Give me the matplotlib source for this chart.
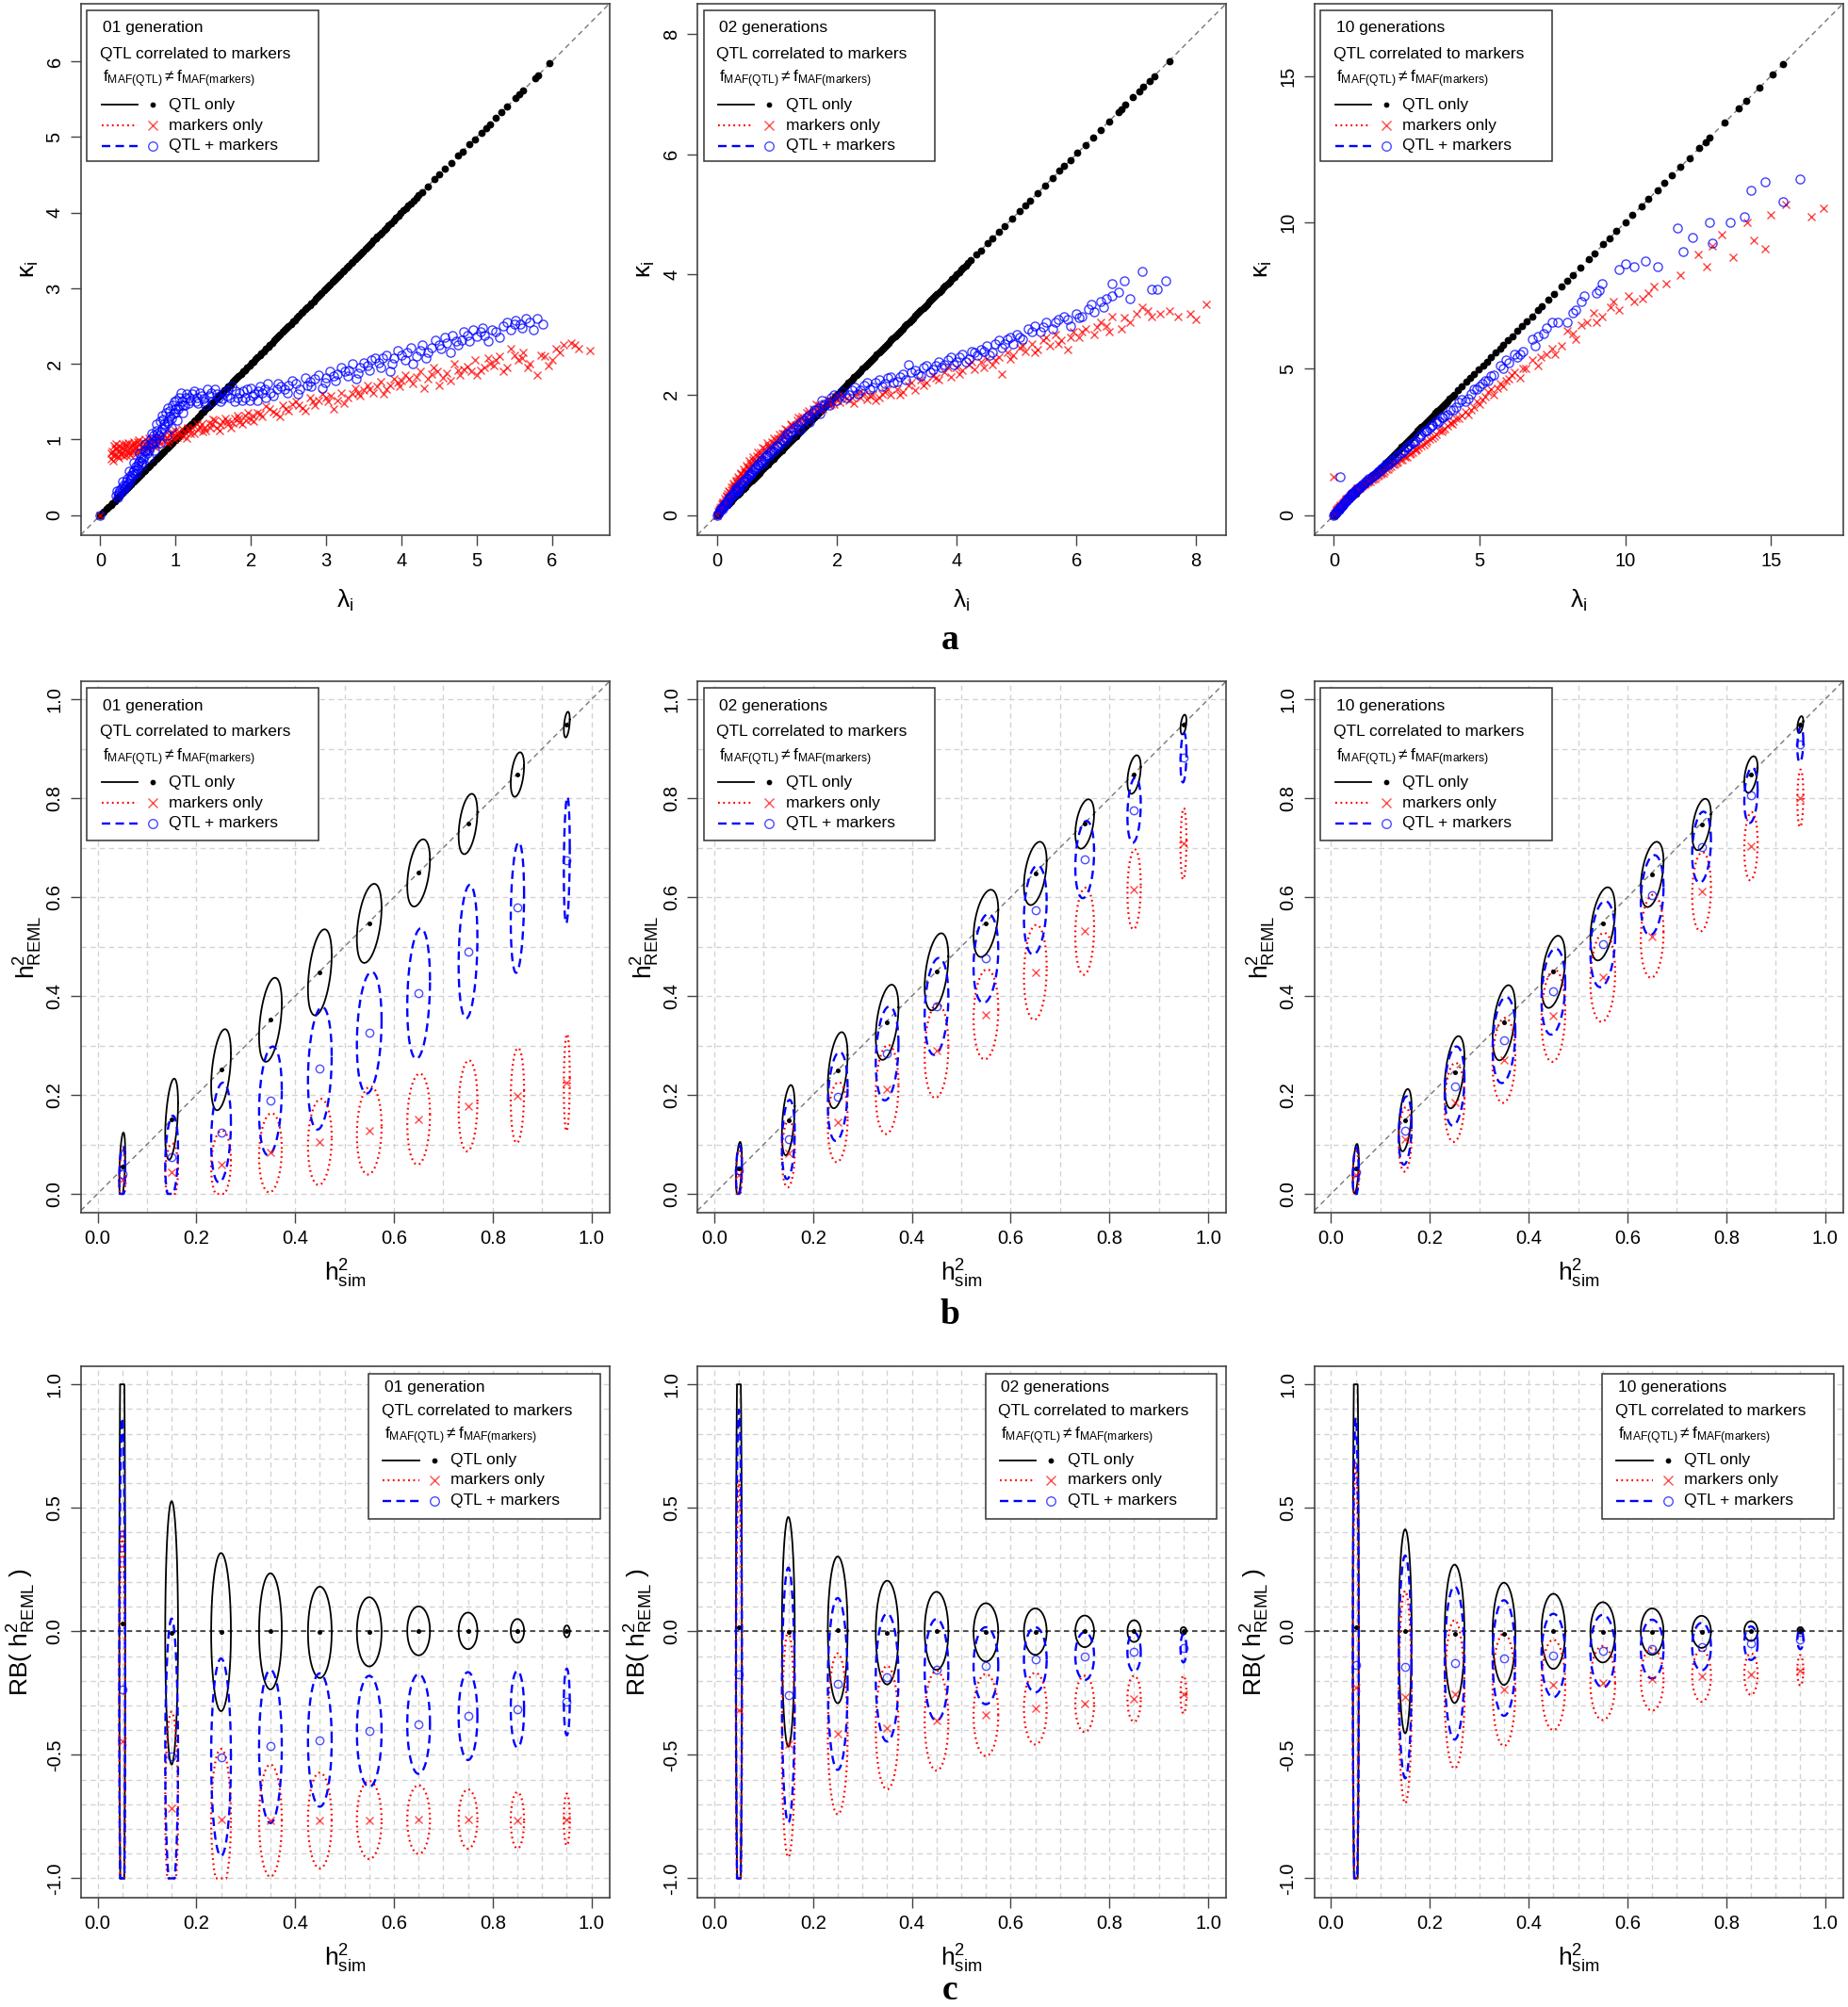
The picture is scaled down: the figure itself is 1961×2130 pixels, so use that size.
import numpy as np
import matplotlib
matplotlib.use("Agg")
import matplotlib.pyplot as plt
from matplotlib.patches import Rectangle
from matplotlib.ticker import MultipleLocator, FormatStrFormatter

plt.rcParams['font.family'] = ['Liberation Sans', 'DejaVu Sans']
plt.rcParams['mathtext.fontset'] = 'custom'
plt.rcParams['mathtext.rm'] = 'Liberation Sans'
plt.rcParams['mathtext.it'] = 'Liberation Sans:italic'
plt.rcParams['mathtext.bf'] = 'Liberation Sans:bold'
plt.rcParams['lines.scale_dashes'] = False
plt.rcParams['axes.unicode_minus'] = False

gen_titles = ['01 generation', '02 generations', '10 generations']

# ---------------- row a : kappa_i vs lambda_i ----------------
# QTL only points lie on kappa = lambda
a1_qtl = [0.00, 0.05, 0.11, 0.16, 0.22, 0.27, 0.33, 0.38, 0.44, 0.49, 0.55, 0.60, 0.66, 0.71,
          0.77, 0.82, 0.88, 0.93, 0.99, 1.04, 1.10, 1.15, 1.21, 1.26, 1.32, 1.37, 1.43, 1.48,
          1.54, 1.59, 1.65, 1.70, 1.76, 1.81, 1.87, 1.92, 1.98, 2.03, 2.09, 2.14, 2.20, 2.25,
          2.31, 2.36, 2.42, 2.47, 2.53, 2.58, 2.64, 2.69, 2.75, 2.80, 2.86, 2.91, 2.97, 3.02,
          3.08, 3.13, 3.19, 3.24, 3.30, 3.35, 3.41, 3.46, 3.52, 3.57, 3.63, 3.68, 3.74, 3.80,
          3.86, 3.93, 3.99, 4.06, 4.12, 4.20, 4.27, 4.35, 4.44, 4.50, 4.58, 4.66, 4.75, 4.81,
          4.90, 4.97, 5.06, 5.12, 5.17, 5.25, 5.33, 5.40, 5.52, 5.57, 5.62, 5.78, 5.82, 5.97,
          0.03, 0.08, 0.14, 0.19, 0.25, 0.30, 0.36, 0.41, 0.47, 0.52, 0.58, 0.63, 0.69, 0.74,
          0.80, 0.85, 0.91, 0.96, 1.02, 1.07, 1.13, 1.18, 1.24, 1.29, 1.35, 1.40, 1.46, 1.51,
          1.57, 1.62, 1.68, 1.73, 1.79, 1.84, 1.90, 1.95, 2.01, 2.06, 2.12, 2.17, 2.23, 2.28,
          2.34, 2.39, 2.45, 2.50, 2.56, 2.61, 2.67, 2.72, 2.78, 2.83, 2.89, 2.94, 3.00, 3.05,
          3.11, 3.16, 3.22, 3.27, 3.33, 3.38, 3.44, 3.49, 3.55, 3.60, 3.66, 3.71, 3.77, 3.83,
          3.90, 3.96, 4.03, 4.09, 4.16, 4.23]
a2_qtl = [0.00, 0.07, 0.13, 0.20, 0.27, 0.34, 0.40, 0.47, 0.54, 0.61, 0.67, 0.74, 0.81, 0.88,
          0.94, 1.01, 1.08, 1.15, 1.21, 1.28, 1.35, 1.42, 1.48, 1.55, 1.62, 1.69, 1.75, 1.82,
          1.89, 1.96, 2.02, 2.09, 2.16, 2.23, 2.29, 2.36, 2.43, 2.50, 2.56, 2.63, 2.70, 2.77,
          2.83, 2.90, 2.97, 3.04, 3.10, 3.17, 3.24, 3.31, 3.37, 3.44, 3.51, 3.58, 3.64, 3.71,
          3.78, 3.85, 3.92, 4.00, 4.08, 4.15, 4.24, 4.33, 4.40, 4.52, 4.60, 4.71, 4.80, 4.93,
          5.05, 5.15, 5.22, 5.35, 5.48, 5.60, 5.72, 5.80, 5.90, 6.02, 6.15, 6.28, 6.40, 6.55,
          6.70, 6.75, 6.82, 6.95, 7.05, 7.12, 7.22, 7.30, 7.55,
          0.035, 0.10, 0.165, 0.235, 0.305, 0.37, 0.435, 0.505, 0.575, 0.64, 0.705, 0.775,
          0.845, 0.91, 0.975, 1.045, 1.115, 1.18, 1.245, 1.315, 1.385, 1.45, 1.515, 1.585,
          1.655, 1.72, 1.785, 1.855, 1.925, 1.99, 2.055, 2.125, 2.195, 2.26, 2.325, 2.395,
          2.465, 2.53, 2.595, 2.665, 2.735, 2.80, 2.865, 2.935, 3.005, 3.07, 3.135, 3.205,
          3.275, 3.34, 3.405, 3.475, 3.545, 3.61, 3.675, 3.745, 3.815, 3.885, 3.96, 4.04,
          4.115, 4.195]
a3_qtl = [0.00, 0.14, 0.27, 0.41, 0.55, 0.68, 0.82, 0.96, 1.10, 1.23, 1.37, 1.51, 1.64, 1.78,
          1.92, 2.05, 2.19, 2.33, 2.47, 2.60, 2.74, 2.88, 3.01, 3.15, 3.29, 3.42, 3.56, 3.70,
          3.84, 3.97, 4.12, 4.26, 4.40, 4.55, 4.68, 4.82, 4.97, 5.12, 5.25, 5.40, 5.55, 5.70,
          5.82, 5.98, 6.12, 6.30, 6.45, 6.62, 6.80, 7.00, 7.15, 7.35, 7.55, 7.80, 8.00, 8.20,
          8.45, 8.75, 8.95, 9.25, 9.45, 9.70, 10.00, 10.25, 10.55, 10.80, 11.10, 11.35, 11.60,
          11.90, 12.20, 12.55, 12.75, 12.90, 13.40, 13.90, 14.15, 14.60, 15.05, 15.40,
          0.07, 0.20, 0.34, 0.48, 0.61, 0.75, 0.89, 1.03, 1.16, 1.30, 1.44, 1.57, 1.71, 1.85,
          1.98, 2.12, 2.26, 2.40, 2.53, 2.67, 2.81, 2.94, 3.08, 3.22, 3.35, 3.49, 3.63, 3.77,
          3.90, 4.05]

a1_mrk = [(0.00, 0.00), (0.15, 0.75), (0.16, 0.85), (0.18, 0.92), (0.20, 0.80), (0.22, 0.88),
          (0.25, 0.76), (0.28, 0.90), (0.30, 0.83), (0.33, 0.95), (0.36, 0.86), (0.40, 0.80),
          (0.42, 0.93), (0.46, 0.88), (0.50, 0.97), (0.53, 0.85), (0.57, 0.92), (0.60, 1.00),
          (0.65, 0.90), (0.70, 0.97), (0.75, 0.93), (0.80, 1.03), (0.86, 0.98), (0.92, 1.06),
          (0.98, 1.00), (1.05, 1.10), (1.10, 1.04), (1.18, 1.12), (1.25, 1.08), (1.32, 1.17),
          (1.40, 1.12), (1.48, 1.20), (1.55, 1.15), (1.62, 1.24), (1.70, 1.20), (1.78, 1.28),
          (1.85, 1.23), (1.92, 1.32), (2.00, 1.27), (2.08, 1.36), (2.15, 1.30), (2.25, 1.40),
          (2.33, 1.34), (2.42, 1.45), (2.50, 1.38), (2.60, 1.50), (2.68, 1.42), (2.78, 1.55),
          (2.85, 1.46), (2.95, 1.60), (3.02, 1.50), (3.10, 1.40), (3.20, 1.62), (3.28, 1.55),
          (3.38, 1.68), (3.45, 1.58), (3.55, 1.72), (3.62, 1.62), (3.72, 1.76), (3.80, 1.66),
          (3.90, 1.80), (3.98, 1.70), (4.05, 1.85), (4.15, 1.74), (4.25, 1.90), (4.35, 1.80),
          (4.42, 1.95), (4.50, 1.72), (4.60, 1.88), (4.70, 2.00), (4.78, 1.85), (4.88, 1.97),
          (4.98, 2.05), (5.05, 1.92), (5.15, 2.08), (5.22, 1.98), (5.30, 2.10), (5.40, 1.95),
          (5.45, 2.20), (5.55, 2.05), (5.62, 2.15), (5.70, 2.00), (5.80, 1.85), (5.85, 2.12),
          (5.95, 1.98), (6.05, 2.20), (6.15, 2.25), (6.25, 2.28), (6.35, 2.20), (6.50, 2.18),
          (0.17, 0.80), (0.21, 0.95), (0.26, 0.84), (0.31, 0.78), (0.35, 0.92), (0.39, 0.85),
          (0.44, 0.97), (0.48, 0.82), (0.52, 0.93), (0.58, 0.86), (0.62, 0.95), (0.68, 1.02),
          (0.72, 0.91), (0.78, 0.98), (0.84, 1.05), (0.90, 0.96), (0.95, 1.08), (1.02, 1.03),
          (1.08, 1.14), (1.14, 1.02), (1.22, 1.15), (1.28, 1.20), (1.36, 1.10), (1.44, 1.22),
          (1.52, 1.25), (1.58, 1.12), (1.66, 1.28), (1.74, 1.16), (1.82, 1.32), (1.88, 1.20),
          (1.96, 1.35), (2.04, 1.24), (2.20, 1.44), (2.38, 1.30), (2.55, 1.47), (2.72, 1.38),
          (2.90, 1.52), (3.06, 1.58), (3.24, 1.48), (3.42, 1.62), (3.58, 1.66), (3.76, 1.60),
          (3.95, 1.75), (4.10, 1.80), (4.30, 1.68), (4.48, 1.90), (4.65, 1.78), (4.82, 1.93),
          (5.00, 1.85), (5.18, 2.00), (5.35, 1.90), (5.50, 2.12), (5.68, 1.95), (5.90, 2.10),
          (6.10, 2.15)]
a1_mrk_dense = [(0.15, 0.82), (0.17, 0.72), (0.19, 0.88), (0.23, 0.78), (0.24, 0.92),
                (0.27, 0.81), (0.29, 0.95), (0.32, 0.87), (0.34, 0.79), (0.37, 0.96),
                (0.38, 0.82), (0.41, 0.89), (0.43, 0.84), (0.45, 0.95), (0.47, 0.91),
                (0.49, 0.86), (0.51, 0.99), (0.55, 0.89), (0.56, 0.97), (0.59, 0.94),
                (0.63, 0.88), (0.64, 1.02), (0.67, 0.95), (0.69, 0.92), (0.73, 1.00),
                (0.76, 1.04), (0.79, 0.95), (0.82, 1.00), (0.88, 1.03), (0.91, 0.99),
                (0.94, 1.10), (0.97, 1.05), (1.00, 1.12), (1.04, 1.06), (1.12, 1.09),
                (1.16, 1.15), (1.20, 1.08), (1.30, 1.13), (1.34, 1.20), (1.38, 1.16),
                (1.46, 1.15), (1.50, 1.27), (1.60, 1.19), (1.68, 1.24), (1.76, 1.22),
                (1.84, 1.28), (1.94, 1.25), (2.02, 1.32), (2.12, 1.34), (2.30, 1.37),
                (2.46, 1.41), (2.64, 1.45), (2.82, 1.50), (3.00, 1.55), (3.15, 1.52),
                (3.35, 1.60), (3.50, 1.65), (3.68, 1.70), (3.85, 1.72), (4.00, 1.78),
                (4.20, 1.83), (4.40, 1.86), (4.55, 1.82), (4.75, 1.92), (4.92, 1.90),
                (5.10, 1.95), (5.25, 2.05), (5.60, 2.08), (6.00, 2.05), (6.30, 2.25)]
a1_both = [(0.00, 0.00), (0.22, 0.32), (0.30, 0.45), (0.38, 0.58), (0.45, 0.70), (0.52, 0.82),
           (0.60, 0.95), (0.68, 1.08), (0.75, 1.20), (0.82, 1.32), (0.90, 1.42), (0.98, 1.50),
           (1.05, 1.56), (0.25, 0.27), (0.32, 0.36), (0.40, 0.46), (0.48, 0.56), (0.56, 0.66),
           (0.64, 0.76), (0.72, 0.86), (0.80, 0.96), (0.88, 1.06), (0.95, 1.15), (1.02, 1.25),
           (1.10, 1.35), (0.28, 0.36), (0.36, 0.48), (0.44, 0.60), (0.52, 0.72), (0.60, 0.84),
           (0.68, 0.96), (0.76, 1.08), (0.84, 1.20), (0.92, 1.30), (1.00, 1.40), (1.12, 1.45),
           (1.15, 1.60), (1.20, 1.52), (1.25, 1.64), (1.30, 1.48), (1.35, 1.58), (1.42, 1.66),
           (1.48, 1.50), (1.55, 1.60), (1.62, 1.54), (1.70, 1.65), (1.78, 1.50), (1.85, 1.62),
           (1.92, 1.56), (2.00, 1.68), (2.08, 1.52), (2.15, 1.62), (2.22, 1.74), (2.30, 1.58),
           (2.40, 1.70), (2.48, 1.62), (2.55, 1.78), (2.65, 1.66), (2.72, 1.82), (2.80, 1.70),
           (2.90, 1.85), (2.98, 1.75), (3.05, 1.90), (3.12, 1.78), (3.20, 1.95), (3.28, 1.84),
           (3.35, 2.00), (3.42, 1.88), (3.50, 2.02), (3.58, 1.92), (3.65, 2.08), (3.72, 1.95),
           (3.80, 2.12), (3.88, 2.00), (3.95, 2.18), (4.05, 2.05), (4.12, 2.22), (4.20, 2.10),
           (4.28, 2.25), (4.35, 2.15), (4.45, 2.32), (4.52, 2.20), (4.60, 2.28), (4.68, 2.38),
           (4.75, 2.25), (4.82, 2.42), (4.90, 2.30), (5.00, 2.36), (5.08, 2.48), (5.15, 2.30),
           (5.25, 2.42), (5.35, 2.50), (5.45, 2.45), (5.52, 2.58), (5.60, 2.48), (5.70, 2.55),
           (5.80, 2.60), (5.88, 2.52),
           (0.24, 0.30), (0.34, 0.40), (0.42, 0.53), (0.50, 0.66), (0.58, 0.78), (0.66, 0.90),
           (0.74, 1.02), (0.82, 1.14), (0.90, 1.24), (0.97, 1.34), (1.04, 1.44), (1.08, 1.50),
           (1.18, 1.56), (1.28, 1.55), (1.38, 1.50), (1.45, 1.58), (1.52, 1.66), (1.60, 1.50),
           (1.68, 1.58), (1.75, 1.70), (1.82, 1.56), (1.90, 1.64), (1.98, 1.52), (2.05, 1.60),
           (2.12, 1.70), (2.20, 1.56), (2.35, 1.66), (2.50, 1.72), (2.62, 1.60), (2.78, 1.76),
           (2.95, 1.68), (3.10, 1.84), (3.25, 1.90), (3.40, 1.80), (3.55, 1.98), (3.70, 2.02),
           (3.85, 1.90), (4.00, 2.12), (4.15, 2.00), (4.32, 2.08), (4.50, 2.25), (4.65, 2.15),
           (4.80, 2.32), (4.95, 2.45), (5.10, 2.38), (5.30, 2.35), (5.50, 2.52), (5.65, 2.60),
           (5.75, 2.45)]
a1_both_dense = [(0.21, 0.26), (0.23, 0.24), (0.26, 0.33), (0.29, 0.32), (0.31, 0.40),
                 (0.33, 0.38), (0.35, 0.44), (0.37, 0.42), (0.39, 0.52), (0.41, 0.50),
                 (0.43, 0.57), (0.46, 0.55), (0.47, 0.64), (0.49, 0.62), (0.51, 0.70),
                 (0.54, 0.70), (0.55, 0.77), (0.57, 0.74), (0.59, 0.86), (0.62, 0.82),
                 (0.63, 0.92), (0.65, 0.86), (0.67, 1.00), (0.70, 0.95), (0.71, 1.06),
                 (0.73, 0.98), (0.75, 1.12), (0.78, 1.05), (0.79, 1.24), (0.81, 1.10),
                 (0.83, 1.27), (0.86, 1.18), (0.87, 1.36), (0.89, 1.22), (0.92, 1.38),
                 (0.94, 1.28), (0.96, 1.45), (0.99, 1.36), (1.01, 1.52), (1.03, 1.40),
                 (1.07, 1.62), (1.09, 1.45), (1.13, 1.55), (1.17, 1.48), (1.22, 1.60),
                 (1.27, 1.50), (1.32, 1.62), (1.37, 1.54), (1.40, 1.46), (1.47, 1.62),
                 (1.57, 1.56), (1.65, 1.62), (1.72, 1.55), (1.80, 1.64), (1.88, 1.52),
                 (1.95, 1.66), (2.02, 1.58), (2.10, 1.64), (2.18, 1.66), (2.26, 1.62),
                 (2.36, 1.74), (2.45, 1.66), (2.60, 1.74), (2.75, 1.72), (2.85, 1.80),
                 (3.00, 1.82), (3.15, 1.86), (3.30, 1.92), (3.45, 1.95), (3.60, 2.05),
                 (3.75, 2.08), (3.90, 2.08), (4.08, 2.15), (4.25, 2.18), (4.40, 2.22),
                 (4.58, 2.35), (4.72, 2.30), (4.88, 2.38), (5.05, 2.42), (5.20, 2.45),
                 (5.40, 2.55), (5.58, 2.52)]

a2_mrk = [(0.00, 0.00), (0.02, 0.05), (0.05, 0.12), (0.08, 0.18), (0.10, 0.20), (0.13, 0.28),
          (0.16, 0.30), (0.20, 0.38), (0.24, 0.42), (0.28, 0.50), (0.32, 0.55), (0.36, 0.60),
          (0.40, 0.68), (0.45, 0.72), (0.50, 0.80), (0.55, 0.85), (0.60, 0.92), (0.66, 0.98),
          (0.72, 1.04), (0.78, 1.10), (0.85, 1.16), (0.92, 1.22), (1.00, 1.28), (1.08, 1.35),
          (1.16, 1.42), (1.25, 1.50), (1.34, 1.58), (1.42, 1.64), (1.50, 1.70), (1.60, 1.76),
          (1.70, 1.82), (1.80, 1.86), (1.90, 1.90), (2.00, 1.92), (2.10, 1.98), (2.20, 1.90),
          (2.30, 2.00), (2.40, 1.95), (2.50, 1.92), (2.60, 2.00), (2.70, 1.95), (2.80, 2.05),
          (2.90, 2.00), (3.00, 2.10), (3.10, 2.05), (3.20, 2.15), (3.30, 2.08), (3.40, 2.25),
          (3.50, 2.20), (3.60, 2.32), (3.70, 2.25), (3.80, 2.38), (3.90, 2.30), (4.00, 2.45),
          (4.10, 2.40), (4.20, 2.50), (4.30, 2.42), (4.40, 2.55), (4.50, 2.60), (4.60, 2.50),
          (4.70, 2.62), (4.75, 2.35), (4.85, 2.70), (4.95, 2.65), (5.05, 2.78), (5.15, 2.72),
          (5.25, 2.85), (5.35, 2.75), (5.45, 2.90), (5.55, 2.82), (5.65, 3.00), (5.75, 2.90),
          (5.85, 2.75), (5.95, 3.05), (6.05, 2.95), (6.15, 3.10), (6.30, 3.00), (6.40, 3.20),
          (6.50, 3.15), (6.60, 3.30), (6.75, 3.10), (6.90, 3.20), (7.00, 3.35), (7.10, 3.45),
          (7.25, 3.30), (7.40, 3.35), (7.55, 3.40), (7.70, 3.30), (7.90, 3.35), (8.00, 3.25),
          (8.17, 3.50), (0.10, 0.15), (0.30, 0.45), (0.50, 0.72), (0.70, 0.95), (0.90, 1.15),
          (1.10, 1.30), (1.30, 1.50), (1.50, 1.62), (1.70, 1.75), (1.90, 1.85),
          (0.06, 0.09), (0.12, 0.22), (0.18, 0.35), (0.26, 0.46), (0.34, 0.58), (0.42, 0.66),
          (0.52, 0.76), (0.62, 0.88), (0.74, 1.00), (0.86, 1.12), (0.98, 1.24), (1.12, 1.36),
          (1.26, 1.46), (1.40, 1.60), (1.55, 1.68), (1.72, 1.78), (1.88, 1.82), (2.05, 1.88),
          (2.25, 1.95), (2.45, 2.02), (2.65, 1.90), (2.85, 2.10), (3.05, 2.00), (3.25, 2.20),
          (3.45, 2.15), (3.65, 2.28), (3.85, 2.45), (4.05, 2.35), (4.25, 2.55), (4.45, 2.45),
          (4.65, 2.58), (4.90, 2.60), (5.10, 2.82), (5.30, 2.70), (5.50, 2.95), (5.70, 2.85),
          (5.90, 2.95), (6.10, 3.05), (6.35, 3.12), (6.55, 3.05), (6.80, 3.28), (7.20, 3.40)]
a2_mrk_dense = [(0.03, 0.08), (0.07, 0.14), (0.09, 0.22), (0.11, 0.18), (0.14, 0.25),
                (0.15, 0.33), (0.17, 0.28), (0.19, 0.40), (0.22, 0.36), (0.23, 0.46),
                (0.26, 0.40), (0.27, 0.53), (0.30, 0.48), (0.31, 0.58), (0.33, 0.52),
                (0.35, 0.64), (0.38, 0.58), (0.39, 0.70), (0.42, 0.62), (0.44, 0.76),
                (0.47, 0.70), (0.48, 0.82), (0.53, 0.78), (0.54, 0.90), (0.58, 0.82),
                (0.60, 0.97), (0.64, 0.90), (0.68, 1.05), (0.70, 0.96), (0.76, 1.12),
                (0.80, 1.04), (0.83, 1.20), (0.88, 1.10), (0.94, 1.28), (0.96, 1.18),
                (1.04, 1.34), (1.06, 1.26), (1.14, 1.44), (1.18, 1.34), (1.22, 1.52),
                (1.30, 1.44), (1.36, 1.62), (1.45, 1.56), (1.52, 1.74), (1.62, 1.70),
                (1.66, 1.84), (1.76, 1.76), (1.85, 1.92), (1.95, 1.84), (2.02, 1.98),
                (2.15, 1.94), (2.28, 1.86), (2.38, 2.05), (2.55, 1.98), (2.75, 2.02)]
a2_both = [(0.00, 0.00), (0.02, 0.03), (0.05, 0.08), (0.08, 0.12), (0.12, 0.17), (0.16, 0.22),
           (0.20, 0.28), (0.25, 0.34), (0.30, 0.40), (0.35, 0.46), (0.40, 0.52), (0.46, 0.58),
           (0.52, 0.65), (0.58, 0.72), (0.65, 0.80), (0.72, 0.88), (0.80, 0.96), (0.88, 1.04),
           (0.96, 1.12), (1.05, 1.20), (1.14, 1.30), (1.22, 1.38), (1.30, 1.46), (1.40, 1.54),
           (1.50, 1.62), (1.60, 1.70), (1.70, 1.78), (1.75, 1.90), (1.80, 1.82), (1.90, 1.95),
           (2.00, 1.90), (2.10, 2.05), (2.20, 2.00), (2.30, 2.12), (2.40, 2.08), (2.50, 2.20),
           (2.60, 2.12), (2.70, 2.25), (2.80, 2.18), (2.90, 2.30), (3.00, 2.22), (3.10, 2.35),
           (3.20, 2.50), (3.30, 2.40), (3.40, 2.32), (3.50, 2.48), (3.60, 2.42), (3.70, 2.55),
           (3.80, 2.50), (3.90, 2.62), (4.00, 2.55), (4.10, 2.68), (4.20, 2.60), (4.30, 2.70),
           (4.40, 2.75), (4.50, 2.82), (4.60, 2.70), (4.70, 2.90), (4.80, 2.85), (4.90, 2.95),
           (5.00, 3.00), (5.10, 2.92), (5.20, 3.10), (5.30, 3.15), (5.40, 3.05), (5.50, 3.20),
           (5.60, 3.10), (5.70, 3.25), (5.80, 3.30), (5.90, 3.15), (6.00, 3.35), (6.10, 3.30),
           (6.20, 3.42), (6.30, 3.38), (6.40, 3.55), (6.50, 3.60), (6.60, 3.85), (6.70, 3.70),
           (6.80, 3.90), (6.90, 3.60), (7.10, 4.05), (7.25, 3.75), (7.35, 3.75), (7.50, 3.90),
           (0.15, 0.18), (0.35, 0.42), (0.55, 0.66), (0.75, 0.86), (0.95, 1.06), (1.15, 1.26),
           (1.35, 1.44), (1.55, 1.60),
           (0.10, 0.14), (0.22, 0.30), (0.32, 0.44), (0.44, 0.55), (0.56, 0.70), (0.68, 0.84),
           (0.84, 1.00), (1.00, 1.16), (1.18, 1.34), (1.35, 1.50), (1.52, 1.66), (1.65, 1.75),
           (1.85, 1.88), (2.05, 1.98), (2.25, 2.08), (2.45, 2.15), (2.65, 2.20), (2.85, 2.28),
           (3.05, 2.30), (3.25, 2.38), (3.45, 2.45), (3.65, 2.48), (3.85, 2.58), (4.05, 2.62),
           (4.25, 2.72), (4.45, 2.72), (4.65, 2.85), (4.85, 2.92), (5.05, 2.95), (5.25, 3.05),
           (5.45, 3.12), (5.65, 3.20), (5.85, 3.25), (6.05, 3.28), (6.25, 3.50), (6.45, 3.45),
           (6.60, 3.65)]
a2_both_dense = [(0.03, 0.04), (0.06, 0.10), (0.09, 0.10), (0.11, 0.16), (0.14, 0.20),
                 (0.18, 0.22), (0.19, 0.27), (0.23, 0.30), (0.26, 0.36), (0.28, 0.35),
                 (0.32, 0.42), (0.34, 0.40), (0.38, 0.50), (0.42, 0.50), (0.44, 0.58),
                 (0.48, 0.60), (0.50, 0.62), (0.54, 0.68), (0.57, 0.68), (0.60, 0.76),
                 (0.63, 0.76), (0.67, 0.84), (0.70, 0.83), (0.74, 0.92), (0.78, 0.90),
                 (0.82, 1.00), (0.86, 0.98), (0.90, 1.08), (0.94, 1.06), (0.99, 1.16),
                 (1.03, 1.14), (1.08, 1.25), (1.12, 1.22), (1.17, 1.35), (1.25, 1.32),
                 (1.28, 1.44), (1.38, 1.42), (1.45, 1.58), (1.55, 1.55), (1.62, 1.75),
                 (1.72, 1.68), (1.78, 1.85), (1.88, 1.82), (1.95, 2.00), (2.15, 1.95),
                 (2.35, 2.02), (2.55, 2.10), (2.75, 2.14), (2.95, 2.20), (3.15, 2.25),
                 (3.35, 2.35), (3.55, 2.38), (3.75, 2.45), (3.95, 2.50), (4.15, 2.55),
                 (4.35, 2.65), (4.55, 2.65), (4.75, 2.78), (4.95, 2.85)]

a3_mrk = [(0.00, 0.00), (0.00, 1.32), (0.02, 0.05), (0.05, 0.10), (0.10, 0.18), (0.15, 0.24),
          (0.20, 0.30), (0.30, 0.40), (0.40, 0.50), (0.50, 0.60), (0.60, 0.70), (0.70, 0.80),
          (0.80, 0.88), (0.90, 0.95), (1.00, 1.02), (1.15, 1.12), (1.30, 1.22), (1.45, 1.32),
          (1.60, 1.42), (1.75, 1.52), (1.90, 1.62), (2.05, 1.72), (2.20, 1.82), (2.35, 1.90),
          (2.50, 2.00), (2.70, 2.15), (2.90, 2.30), (3.10, 2.42), (3.30, 2.60), (3.50, 2.75),
          (3.70, 2.85), (3.90, 3.05), (4.10, 3.20), (4.30, 3.30), (4.50, 3.55), (4.70, 3.60),
          (4.90, 3.90), (5.10, 3.95), (5.30, 4.20), (5.50, 4.10), (5.70, 4.50), (5.90, 4.60),
          (6.10, 4.80), (6.40, 4.70), (6.60, 5.00), (6.80, 5.30), (7.00, 5.10), (7.30, 5.50),
          (7.50, 5.70), (7.80, 5.80), (8.00, 6.30), (8.30, 6.00), (8.50, 6.50), (8.70, 6.60),
          (8.90, 6.90), (9.20, 6.80), (9.50, 7.10), (9.80, 7.00), (10.10, 7.50), (10.60, 7.40),
          (10.80, 7.60), (11.00, 7.80), (11.40, 7.90), (11.90, 8.20), (12.50, 8.90),
          (12.80, 8.50), (13.00, 9.20), (13.30, 9.60), (13.70, 8.80), (14.20, 10.00),
          (14.40, 9.40), (14.80, 9.10), (15.00, 10.25), (15.50, 10.60), (16.40, 10.20),
          (16.80, 10.50), (0.40, 0.55), (0.80, 0.92), (1.20, 1.20), (1.60, 1.48), (2.00, 1.75),
          (2.40, 2.02), (2.80, 2.28), (3.20, 2.55), (3.60, 2.90), (4.00, 3.15),
          (0.25, 0.33), (0.45, 0.55), (0.65, 0.74), (0.85, 0.92), (1.05, 1.05), (1.25, 1.16),
          (1.40, 1.25), (1.55, 1.38), (1.70, 1.45), (1.85, 1.58), (2.10, 1.76), (2.30, 1.88),
          (2.60, 2.08), (2.80, 2.20), (3.00, 2.38), (3.40, 2.62), (3.80, 2.95), (4.20, 3.30),
          (4.60, 3.45), (5.00, 3.80), (5.40, 4.30), (5.80, 4.40), (6.20, 4.90), (7.10, 5.40),
          (7.60, 5.50), (8.20, 6.20), (9.00, 6.60), (9.60, 7.30), (10.30, 7.30)]
a3_mrk_dense = [(0.07, 0.14), (0.12, 0.22), (0.17, 0.28), (0.22, 0.34), (0.27, 0.37),
                (0.33, 0.45), (0.37, 0.48), (0.43, 0.56), (0.48, 0.58), (0.53, 0.65),
                (0.58, 0.67), (0.63, 0.75), (0.68, 0.76), (0.73, 0.84), (0.78, 0.85),
                (0.83, 0.92), (0.88, 0.93), (0.95, 1.00), (1.10, 1.08), (1.20, 1.16),
                (1.35, 1.26), (1.50, 1.35), (1.65, 1.45), (1.80, 1.56), (1.95, 1.66),
                (2.15, 1.80), (2.45, 1.98), (2.65, 2.12), (2.85, 2.26), (3.15, 2.48),
                (3.45, 2.70), (3.75, 2.92), (4.05, 3.12), (4.40, 3.40), (4.80, 3.70),
                (5.20, 4.05), (5.60, 4.35), (6.00, 4.65), (6.50, 5.00)]
a3_both = [(0.00, 0.00), (0.20, 1.30), (0.02, 0.02), (0.05, 0.06), (0.10, 0.12), (0.15, 0.18),
           (0.20, 0.24), (0.30, 0.36), (0.40, 0.47), (0.50, 0.58), (0.60, 0.68), (0.70, 0.78),
           (0.80, 0.88), (0.90, 0.97), (1.00, 1.06), (1.15, 1.18), (1.30, 1.30), (1.45, 1.42),
           (1.60, 1.55), (1.75, 1.66), (1.90, 1.78), (2.05, 1.90), (2.20, 2.05), (2.40, 2.20),
           (2.60, 2.40), (2.80, 2.55), (3.00, 2.75), (3.20, 2.90), (3.40, 3.10), (3.60, 3.20),
           (3.80, 3.40), (4.00, 3.60), (4.20, 3.70), (4.40, 3.95), (4.60, 4.00), (4.80, 4.30),
           (5.00, 4.40), (5.20, 4.60), (5.50, 4.80), (5.70, 5.10), (6.00, 5.20), (6.20, 5.50),
           (6.50, 5.60), (6.80, 6.00), (7.00, 6.10), (7.30, 6.40), (7.50, 6.60), (8.00, 6.60),
           (8.30, 7.00), (8.50, 7.30), (9.00, 7.60), (9.20, 7.90), (9.80, 8.40), (10.00, 8.60),
           (10.30, 8.50), (10.70, 8.70), (11.10, 8.50), (11.80, 9.80), (12.00, 9.00),
           (12.30, 9.50), (12.90, 10.00), (13.00, 9.30), (13.60, 10.00), (14.10, 10.20),
           (14.30, 11.10), (14.80, 11.40), (15.40, 10.70), (16.00, 11.50), (0.60, 0.72),
           (1.20, 1.25), (1.80, 1.75), (2.50, 2.35), (3.10, 2.85), (3.70, 3.35),
           (0.25, 0.30), (0.45, 0.52), (0.65, 0.74), (0.85, 0.93), (1.10, 1.14), (1.35, 1.36),
           (1.55, 1.50), (1.70, 1.62), (1.95, 1.84), (2.30, 2.12), (2.50, 2.30), (2.70, 2.48),
           (2.90, 2.65), (3.30, 3.00), (3.50, 3.20), (3.90, 3.45), (4.30, 3.85), (4.70, 4.15),
           (5.10, 4.50), (5.40, 4.75), (5.90, 5.30), (6.40, 5.50), (6.90, 5.80), (7.70, 6.60),
           (8.60, 7.50), (9.10, 7.70)]
a3_both_dense = [(0.07, 0.08), (0.12, 0.15), (0.17, 0.20), (0.22, 0.27), (0.27, 0.32),
                 (0.33, 0.40), (0.37, 0.44), (0.43, 0.50), (0.48, 0.56), (0.53, 0.62),
                 (0.58, 0.66), (0.63, 0.72), (0.68, 0.76), (0.73, 0.82), (0.78, 0.86),
                 (0.83, 0.90), (0.88, 0.95), (0.95, 1.02), (1.05, 1.10), (1.25, 1.26),
                 (1.40, 1.38), (1.50, 1.47), (1.65, 1.60), (1.85, 1.74), (2.00, 1.88),
                 (2.15, 2.00), (2.35, 2.16), (2.55, 2.35), (2.75, 2.52), (2.95, 2.70),
                 (3.15, 2.88), (3.35, 3.05), (3.55, 3.15), (3.75, 3.35), (4.10, 3.60),
                 (4.50, 3.90), (4.90, 4.30), (5.30, 4.60), (5.80, 5.00), (6.30, 5.40),
                 (7.20, 6.20), (8.20, 6.90)]

a_qtl = [a1_qtl, a2_qtl, a3_qtl]
a_mrk = [a1_mrk + a1_mrk_dense, a2_mrk + a2_mrk_dense, a3_mrk + a3_mrk_dense]
a_both = [a1_both + a1_both_dense, a2_both + a2_both_dense, a3_both + a3_both_dense]
a_lims = [(-0.26, 6.76), (-0.33, 8.5), (-0.67, 17.47)]
a_steps = [1, 2, 5]

# ---------------- rows b and c : ellipses per simulated heritability ----------------
h2_sim = [0.05, 0.15, 0.25, 0.35, 0.45, 0.55, 0.65, 0.75, 0.85, 0.95]
h2_halfwidth = [0.006, 0.013, 0.020, 0.023, 0.024, 0.025, 0.023, 0.019, 0.0135, 0.006]

# b: h2 REML, centre and half height
b1_qtl = [0.056, 0.151, 0.251, 0.352, 0.448, 0.547, 0.649, 0.748, 0.848, 0.949]
b1_qtl_hh = [0.068, 0.082, 0.082, 0.085, 0.087, 0.080, 0.068, 0.061, 0.045, 0.026]
b1_mrk = [0.029, 0.044, 0.060, 0.083, 0.105, 0.128, 0.151, 0.178, 0.199, 0.225]
b1_mrk_hh = [0.058, 0.058, 0.068, 0.080, 0.087, 0.089, 0.092, 0.092, 0.096, 0.098]
b1_both = [0.040, 0.074, 0.124, 0.188, 0.254, 0.326, 0.405, 0.490, 0.579, 0.675]
b1_both_hh = [0.055, 0.084, 0.101, 0.110, 0.124, 0.123, 0.132, 0.135, 0.132, 0.128]

b2_qtl = [0.051, 0.149, 0.250, 0.347, 0.449, 0.547, 0.648, 0.748, 0.848, 0.949]
b2_qtl_hh = [0.054, 0.071, 0.077, 0.076, 0.078, 0.068, 0.064, 0.050, 0.039, 0.020]
b2_mrk = [0.039, 0.081, 0.145, 0.211, 0.289, 0.363, 0.448, 0.531, 0.616, 0.708]
b2_mrk_hh = [0.050, 0.068, 0.081, 0.090, 0.095, 0.091, 0.096, 0.088, 0.081, 0.072]
b2_both = [0.047, 0.110, 0.197, 0.284, 0.379, 0.476, 0.574, 0.676, 0.776, 0.882]
b2_both_hh = [0.050, 0.080, 0.090, 0.095, 0.098, 0.090, 0.090, 0.078, 0.066, 0.050]

b3_qtl = [0.051, 0.149, 0.246, 0.346, 0.449, 0.546, 0.646, 0.747, 0.848, 0.949]
b3_qtl_hh = [0.050, 0.063, 0.073, 0.076, 0.073, 0.074, 0.066, 0.052, 0.037, 0.017]
b3_mrk = [0.039, 0.110, 0.185, 0.270, 0.360, 0.438, 0.521, 0.611, 0.703, 0.800]
b3_mrk_hh = [0.047, 0.065, 0.080, 0.086, 0.093, 0.090, 0.084, 0.080, 0.069, 0.058]
b3_both = [0.043, 0.128, 0.218, 0.311, 0.409, 0.505, 0.604, 0.701, 0.806, 0.909]
b3_both_hh = [0.051, 0.069, 0.080, 0.087, 0.087, 0.087, 0.081, 0.072, 0.056, 0.036]

# c: relative bias RB(h2 REML), centre and half height
c1_qtl = [0.030, -0.006, -0.003, 0.000, -0.004, -0.002, 0.002, 0.002, 0.002, 0.000]
c1_qtl_hh = [1.40, 0.533, 0.320, 0.235, 0.185, 0.140, 0.099, 0.074, 0.048, 0.024]
c1_mrk = [-0.445, -0.715, -0.761, -0.766, -0.766, -0.764, -0.762, -0.760, -0.765, -0.762]
c1_mrk_hh = [0.85, 0.39, 0.285, 0.227, 0.194, 0.158, 0.139, 0.120, 0.114, 0.105]
c1_both = [-0.235, -0.508, -0.510, -0.466, -0.440, -0.405, -0.375, -0.343, -0.315, -0.286]
c1_both_hh = [1.10, 0.56, 0.40, 0.31, 0.27, 0.225, 0.202, 0.178, 0.155, 0.135]

c2_qtl = [0.017, -0.002, 0.006, -0.005, 0.002, -0.004, -0.001, 0.000, 0.001, 0.002]
c2_qtl_hh = [1.30, 0.465, 0.297, 0.210, 0.158, 0.118, 0.094, 0.064, 0.044, 0.015]
c2_mrk = [-0.320, -0.457, -0.415, -0.390, -0.362, -0.339, -0.313, -0.294, -0.273, -0.256]
c2_mrk_hh = [0.93, 0.457, 0.326, 0.250, 0.202, 0.166, 0.145, 0.114, 0.093, 0.076]
c2_both = [-0.173, -0.258, -0.213, -0.187, -0.156, -0.139, -0.115, -0.100, -0.084, -0.069]
c2_both_hh = [1.07, 0.516, 0.348, 0.259, 0.206, 0.156, 0.132, 0.097, 0.079, 0.057]

c3_qtl = [0.017, 0.000, -0.010, -0.010, 0.000, -0.004, -0.001, -0.002, 0.001, 0.004]
c3_qtl_hh = [1.30, 0.413, 0.280, 0.207, 0.152, 0.122, 0.094, 0.065, 0.040, 0.013]
c3_mrk = [-0.228, -0.266, -0.255, -0.236, -0.217, -0.209, -0.194, -0.180, -0.173, -0.158]
c3_mrk_hh = [0.91, 0.430, 0.300, 0.228, 0.183, 0.150, 0.127, 0.105, 0.084, 0.062]
c3_both = [-0.135, -0.144, -0.128, -0.108, -0.098, -0.080, -0.072, -0.062, -0.048, -0.032]
c3_both_hh = [1.00, 0.451, 0.310, 0.234, 0.169, 0.147, 0.119, 0.096, 0.068, 0.040]

b_data = [[(b1_qtl, b1_qtl_hh), (b1_mrk, b1_mrk_hh), (b1_both, b1_both_hh)],
          [(b2_qtl, b2_qtl_hh), (b2_mrk, b2_mrk_hh), (b2_both, b2_both_hh)],
          [(b3_qtl, b3_qtl_hh), (b3_mrk, b3_mrk_hh), (b3_both, b3_both_hh)]]
c_data = [[(c1_qtl, c1_qtl_hh), (c1_mrk, c1_mrk_hh), (c1_both, c1_both_hh)],
          [(c2_qtl, c2_qtl_hh), (c2_mrk, c2_mrk_hh), (c2_both, c2_both_hh)],
          [(c3_qtl, c3_qtl_hh), (c3_mrk, c3_mrk_hh), (c3_both, c3_both_hh)]]

# styles: QTL only / markers only / QTL + markers
names = ['QTL only', 'markers only', 'QTL + markers']
cols = ['black', '#FF0000', '#0000FF']
lstyles = ['-', (0, (1.3, 2.6)), (0, (6.5, 4.0))]
lwidths = [1.3, 1.6, 1.7]
tilt_b = [0.4, 0.1, 0.2]


def center_marker(ax, x, y, k, transform=None, ms_scale=1.0, z=8):
    kw = {}
    if transform is not None:
        kw = dict(transform=transform, clip_on=False)
    if k == 0:
        ax.plot(x, y, 'o', color='black', ms=3.6 * ms_scale, mew=0, zorder=z, **kw)
    elif k == 1:
        ax.plot(x, y, 'x', color=cols[1], alpha=0.7, ms=6.0 * ms_scale, mew=1.0, zorder=z, **kw)
    else:
        ax.plot(x, y, 'o', mfc='none', mec=cols[2], alpha=0.7, ms=6.0 * ms_scale, mew=1.0,
                zorder=z, **kw)


def ellipse(ax, x, hw, cy, hh, r, lo, hi, k):
    t = np.linspace(0, 2 * np.pi, 240)
    ex = x + hw * np.cos(t)
    ey = cy + hh * (r * np.cos(t) + np.sqrt(1 - r * r) * np.sin(t))
    ey = np.clip(ey, lo, hi)
    ax.plot(ex, ey, color=cols[k], ls=lstyles[k], lw=lwidths[k], zorder=3 + k)


def draw_key(ax, left, top, title, height, steps):
    ax.add_patch(Rectangle((left, top - height), 0.438, height, transform=ax.transAxes,
                           facecolor='white', edgecolor='#333333', lw=1.1, zorder=9))
    y = [top - s for s in steps]
    kw = dict(transform=ax.transAxes, fontsize=12.5, va='center', ha='left', zorder=10)
    ax.text(left + 0.029, y[0], title, **kw)
    ax.text(left + 0.024, y[1], 'QTL correlated to markers', **kw)
    ax.text(left + 0.029, y[2],
            r'$\mathrm{f}_{\mathrm{MAF(QTL)}}\neq\mathrm{f}_{\mathrm{MAF(markers)}}$', **kw)
    for k in range(3):
        ax.plot([left + 0.027, left + 0.095], [y[3 + k], y[3 + k]], transform=ax.transAxes,
                color=cols[k], ls=lstyles[k], lw=lwidths[k], zorder=10, clip_on=False)
        center_marker(ax, [left + 0.124], [y[3 + k]], k, transform=ax.transAxes,
                      ms_scale=1.15, z=11)
        ax.text(left + 0.155, y[3 + k], names[k], **kw)


def style_axes(ax):
    for s in ax.spines.values():
        s.set_color('#444444')
        s.set_linewidth(1.2)
    ax.tick_params(which='major', direction='out', length=8, width=1, color='#444444',
                   labelsize=14.5, pad=5)
    ax.tick_params(which='minor', length=0)
    ax.tick_params(axis='y', labelrotation=90)
    for lab in ax.get_yticklabels():
        lab.set_va('center')


fig = plt.figure(figsize=(19.61, 21.30), dpi=100)
col_left = [0.0437, 0.3774, 0.7112]
row_bottom = [0.7335, 0.3958, 0.0545]
ax_w, ax_h = 0.286, 0.2646

key_steps_ab = [0.034, 0.082, 0.130, 0.178, 0.217, 0.255]
key_steps_c = [0.025, 0.070, 0.116, 0.162, 0.200, 0.239]

for j in range(3):
    # ---- row a ----
    ax = fig.add_axes([col_left[j], row_bottom[0], ax_w, ax_h])
    lam = a_qtl[j]
    ax.plot(lam, lam, 'o', color='black', ms=5.6, mew=0, zorder=3)
    mrk = np.array(a_mrk[j])
    ax.plot(mrk[:, 0], mrk[:, 1], 'x', color=cols[1], alpha=0.75, ms=6.3, mew=1.0, zorder=4)
    both = np.array(a_both[j])
    ax.plot(both[:, 0], both[:, 1], 'o', mfc='none', mec=cols[2], alpha=0.75, ms=6.6,
            mew=1.0, zorder=5)
    ax.axline((0, 0), slope=1, color='#777777', ls=(0, (4, 3)), lw=1.0, zorder=2)
    lo, hi = a_lims[j]
    ax.set_xlim(lo, hi)
    ax.set_ylim(lo, hi)
    ax.xaxis.set_major_locator(MultipleLocator(a_steps[j]))
    ax.yaxis.set_major_locator(MultipleLocator(a_steps[j]))
    style_axes(ax)
    ax.set_xlabel(r'$\mathrm{λ}_{\mathrm{i}}$', fontsize=19, labelpad=14)
    ax.set_ylabel(r'$\mathrm{κ}_{\mathrm{i}}$', fontsize=19, labelpad=4)
    draw_key(ax, 0.012, 0.988, gen_titles[j], 0.284, key_steps_ab)

    # ---- row b ----
    ax = fig.add_axes([col_left[j], row_bottom[1], ax_w, ax_h])
    ax.axline((0, 0), slope=1, color='#777777', ls=(0, (4, 3)), lw=1.0, zorder=2)
    for k in range(3):
        mid, hh = b_data[j][k]
        for i in range(len(h2_sim)):
            ellipse(ax, h2_sim[i], h2_halfwidth[i], mid[i], hh[i], tilt_b[k], 0.0, 1.0, k)
        center_marker(ax, h2_sim, mid, k)
    ax.set_xlim(-0.034, 1.036)
    ax.set_ylim(-0.038, 1.036)
    ax.xaxis.set_major_locator(MultipleLocator(0.2))
    ax.yaxis.set_major_locator(MultipleLocator(0.2))
    ax.xaxis.set_minor_locator(MultipleLocator(0.1))
    ax.yaxis.set_minor_locator(MultipleLocator(0.1))
    ax.xaxis.set_major_formatter(FormatStrFormatter('%.1f'))
    ax.yaxis.set_major_formatter(FormatStrFormatter('%.1f'))
    ax.grid(which='both', color='#d3d3d3', ls=(0, (4, 3)), lw=1.0, zorder=0)
    ax.set_axisbelow(True)
    style_axes(ax)
    ax.set_xlabel(r'$\mathrm{h}^{2}_{\mathrm{sim}}$', fontsize=19, labelpad=8)
    ax.set_ylabel(r'$\mathrm{h}^{2}_{\mathrm{REML}}$', fontsize=19, labelpad=1)
    draw_key(ax, 0.012, 0.988, gen_titles[j], 0.287, key_steps_ab)

    # ---- row c ----
    ax = fig.add_axes([col_left[j], row_bottom[2], ax_w, ax_h])
    ax.axhline(0, color='#333333', ls=(0, (4, 3)), lw=1.2, zorder=2)
    for k in range(3):
        mid, hh = c_data[j][k]
        for i in range(len(h2_sim)):
            ellipse(ax, h2_sim[i], h2_halfwidth[i], mid[i], hh[i], 0.0, -1.0, 1.0, k)
        center_marker(ax, h2_sim, mid, k)
    ax.set_xlim(-0.034, 1.036)
    ax.set_ylim(-1.078, 1.072)
    ax.xaxis.set_major_locator(MultipleLocator(0.2))
    ax.yaxis.set_major_locator(MultipleLocator(0.5))
    ax.xaxis.set_minor_locator(MultipleLocator(0.05))
    ax.yaxis.set_minor_locator(MultipleLocator(0.1))
    ax.xaxis.set_major_formatter(FormatStrFormatter('%.1f'))
    ax.yaxis.set_major_formatter(FormatStrFormatter('%.1f'))
    ax.grid(which='both', color='#d3d3d3', ls=(0, (4, 3)), lw=1.0, zorder=0)
    ax.set_axisbelow(True)
    style_axes(ax)
    ax.set_xlabel(r'$\mathrm{h}^{2}_{\mathrm{sim}}$', fontsize=19, labelpad=8)
    ax.set_ylabel(r'RB( $\mathrm{h}^{2}_{\mathrm{REML}}$ )', fontsize=19, labelpad=6)
    draw_key(ax, 0.545, 0.986, gen_titles[j], 0.273, key_steps_c)

for lab, yy in [('a', 0.681), ('b', 0.345), ('c', 0.008)]:
    fig.text(0.514, yy, lab, fontsize=27, fontweight='bold', family='Liberation Serif',
             ha='center', va='center')

fig.savefig('out.png', dpi=100)
